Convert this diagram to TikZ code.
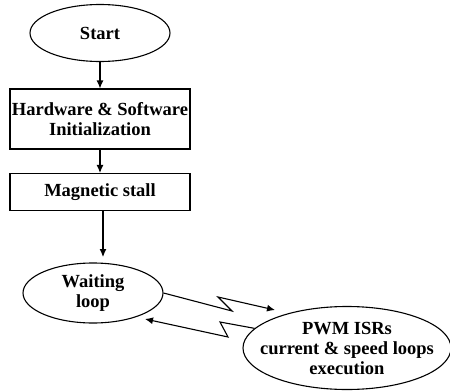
\documentclass[tikz,border=0pt]{standalone}
\usepackage{fontspec}
\setmainfont{Liberation Serif}
\usetikzlibrary{shapes.geometric,arrows.meta}

\tikzset{
  blk/.style={draw, rectangle, minimum width=180, minimum height=37, inner sep=0, align=center},
  oval/.style={draw, ellipse, inner sep=0, align=center},
  txt/.style={font=\fontsize{18.5}{20}\selectfont\bfseries},
}

\begin{document}
\begin{tikzpicture}[>={Latex[length=8pt,width=7pt]}, x=1pt, y=-1pt, line width=1.1pt]
\useasboundingbox (0,0) rectangle (450,391);
\node[oval, txt, minimum width=140, minimum height=57] (start) at (100,33) {Start};
\node[blk, txt, minimum height=60] (init) at (100,119) {Hardware \& Software\\Initialization};
\node[blk, txt] (stall) at (100,192) {Magnetic stall};
\node[oval, txt, minimum width=140, minimum height=60] (wait) at (93,293) {Waiting\\loop};
\node[oval, txt, inner xsep=-40, inner ysep=-10, minimum width=208, minimum height=83] (pwm) at (347,348) {PWM ISRs\\current \& speed loops\\execution};
\coordinate (waitin) at (103,257);
% zigzag links
\coordinate (za) at (232,311);
\coordinate (zb) at (218,297);
\coordinate (pwmin) at (275,310);
\coordinate (zc) at (220,322);
\coordinate (zd) at (228,337);
\coordinate (waitback) at (145,319);
\draw [->] (start) -- (init);
\draw [->] (init) -- (stall);
\draw [->] (stall.south -| waitin) -- (waitin);
\draw [->] (wait.east) -- (za) -- (zb) -- (pwmin);
\draw [->] (pwm.168) -- (zc) -- (zd) -- (waitback);
\end{tikzpicture}
\end{document}
